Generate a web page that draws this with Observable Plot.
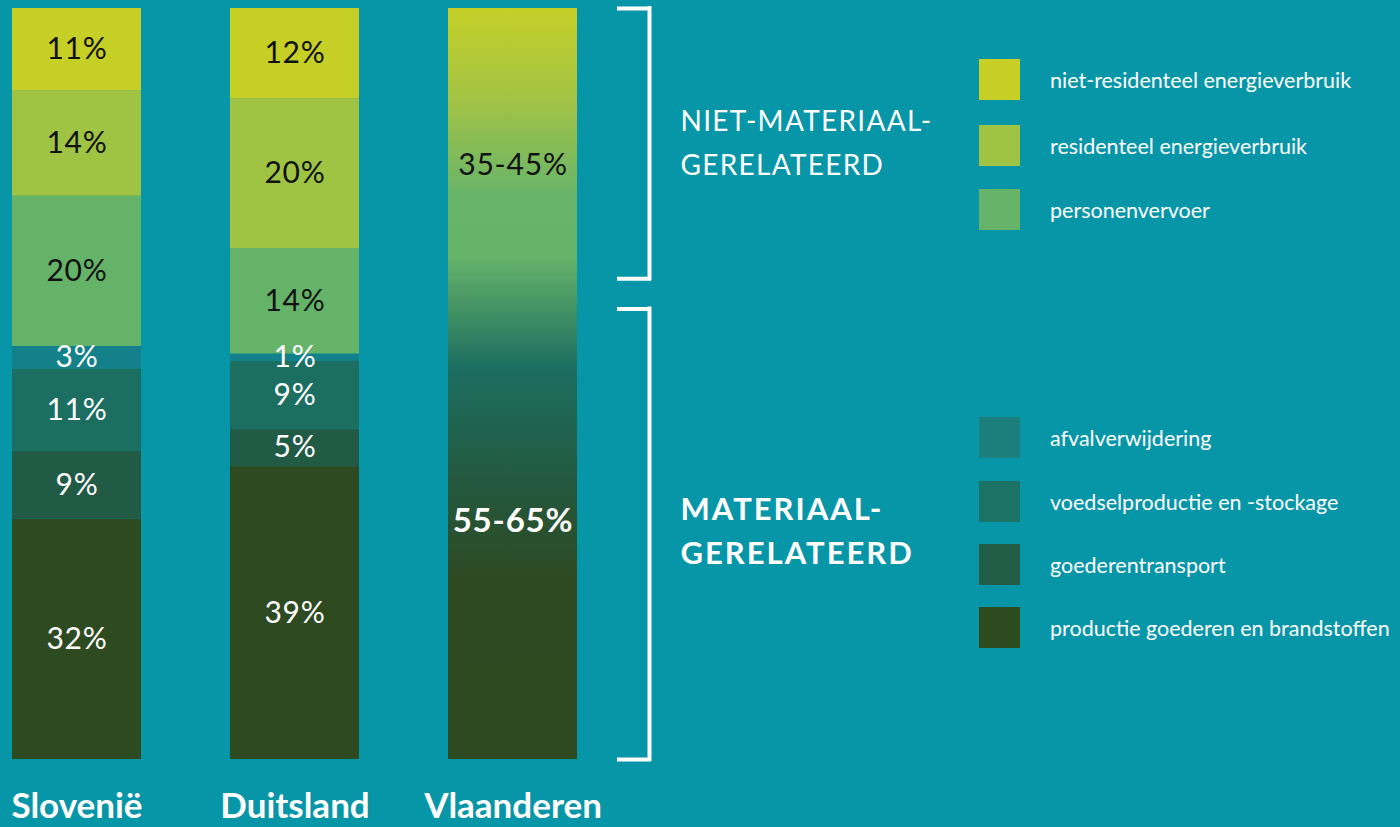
<!DOCTYPE html>
<html><head><meta charset="utf-8">
<script src="https://cdn.jsdelivr.net/npm/d3@7"></script>
<script src="https://cdn.jsdelivr.net/npm/@observablehq/plot@0.6"></script>
<style>
html,body{margin:0;padding:0;background:#0796a8;}
#wrap{position:relative;width:1400px;height:827px;overflow:hidden;font-family:Lato,"Noto Sans",sans-serif;}
#legend{position:absolute;left:979px;top:0;color:#fff;font-size:21.5px;}
.item{position:absolute;left:0;display:flex;align-items:center;white-space:nowrap;}
.sw{width:41px;height:41px;margin-right:30px;flex:none;}
svg{display:block;}
</style></head><body><div id="wrap"></div>
<script>
// ---- data ----
const countries = ["Slovenië", "Duitsland", "Vlaanderen"];
// stacking order: bottom to top
const categories = [
  "productie goederen en brandstoffen",
  "goederentransport",
  "voedselproductie en -stockage",
  "afvalverwijdering",
  "personenvervoer",
  "residenteel energieverbruik",
  "niet-residenteel energieverbruik"
];
const sloveniaValues = [32, 9, 11, 3, 20, 14, 11];
const germanyValues  = [39, 5, 9, 1, 14, 20, 12];
const categoryColors = ["#2d4a21", "#215b46", "#1b6e60", "#13808a", "#65b369", "#9fc444", "#c5cf26"];
const labelColors    = ["#ffffff", "#ffffff", "#ffffff", "#ffffff", "#111111", "#111111", "#111111"];
const legendSwatches = ["#2e4a1f", "#225d48", "#1c7265", "#1d7f7b", "#66b36a", "#9fc444", "#c7cf26"];

const flandersGroups = ["materiaal-gerelateerd", "niet-materiaal-gerelateerd"];
const flandersShares = [60, 40];
const flandersLabels = ["55-65%", "35-45%"];

const bracketLabels = ["MATERIAAL-\nGERELATEERD", "NIET-MATERIAAL-\nGERELATEERD"];
const bracketLow  = [0, 64];
const bracketHigh = [60, 100];

// ---- tables ----
const rows = [];
categories.forEach((c, i) => rows.push({country: "Slovenië", category: c, value: sloveniaValues[i], color: categoryColors[i], lc: labelColors[i]}));
categories.forEach((c, i) => rows.push({country: "Duitsland", category: c, value: germanyValues[i], color: categoryColors[i], lc: labelColors[i]}));
const flanders = flandersGroups.map((g, i) => ({country: "Vlaanderen", group: g, value: flandersShares[i], label: flandersLabels[i]}));
const flandersTotal = [{country: "Vlaanderen", value: d3.sum(flandersShares)}];
const brackets = bracketLabels.map((l, i) => ({label: l, lo: bracketLow[i], hi: bracketHigh[i], bold: i === 0}));

const gradStops = [
  [0, "#c5cf27"], [0.12, "#a3c344"], [0.25, "#67b46a"], [0.33, "#66b36a"],
  [0.48, "#1c6e60"], [0.62, "#235a42"], [0.76, "#2d4a22"], [1, "#2d4a21"]
];
const gradientDefs = () => {
  const defs = d3.create("svg:defs");
  const lg = defs.append("linearGradient").attr("id", "vgrad")
    .attr("x1", 0).attr("y1", 0).attr("x2", 0).attr("y2", 1);
  gradStops.forEach(([o, c]) => lg.append("stop").attr("offset", o).attr("stop-color", c));
  return defs.node();
};

const fl = () => "Vlaanderen";
const chart = Plot.plot({
  width: 1400, height: 827,
  marginTop: 8, marginBottom: 68, marginLeft: 0, marginRight: 0,
  x: {domain: countries, range: [12, 578], paddingInner: 0.407, paddingOuter: 0, label: null},
  y: {domain: [0, 100], axis: null},
  color: {type: "identity"},
  style: {background: "transparent", fontFamily: "Lato, 'Noto Sans', sans-serif", color: "white", overflow: "visible"},
  marks: [
    gradientDefs,
    Plot.barY(rows, Plot.stackY({x: "country", y: "value", fill: "color"})),
    Plot.barY(flandersTotal, {x: "country", y: "value", fill: "url(#vgrad)"}),
    Plot.text(rows, Plot.stackY({x: "country", y: "value", text: d => d.value + "%", fill: "lc", fontSize: 30})),
    Plot.text(flanders, Plot.stackY({x: "country", y: "value", text: d => d.group === "niet-materiaal-gerelateerd" ? d.label : null, fill: "#111", fontSize: 30, dy: 7})),
    Plot.text(flanders, Plot.stackY({x: "country", y: "value", text: d => d.group === "materiaal-gerelateerd" ? d.label : null, fill: "white", fontSize: 33, fontWeight: "bold", dy: -13})),
    Plot.ruleX(brackets, {x: fl, y1: "lo", y2: "hi", dx: 136.5, stroke: "white", strokeWidth: 4, strokeLinecap: "square"}),
    Plot.ruleY(brackets, {y: "hi", x1: fl, x2: fl, insetLeft: 171, insetRight: -72, stroke: "white", strokeWidth: 4, strokeLinecap: "square"}),
    Plot.ruleY(brackets, {y: "lo", x1: fl, x2: fl, insetLeft: 171, insetRight: -72, stroke: "white", strokeWidth: 4, strokeLinecap: "square"}),
    Plot.text(brackets, {filter: d => !d.bold, x: fl, y: d => (d.lo + d.hi) / 2, text: "label", dx: 167.5, dy: -5, textAnchor: "start", lineHeight: 1.6, fontSize: 28, fill: "white"}),
    Plot.text(brackets, {filter: d => d.bold, x: fl, y: d => (d.lo + d.hi) / 2, text: "label", dx: 167.5, dy: -6, textAnchor: "start", lineHeight: 1.42, fontSize: 31, fontWeight: "bold", fill: "white"}),
    Plot.axisX({tickSize: 0, tickPadding: 34, fontSize: 35, fontWeight: "bold", fill: "white", label: null})
  ]
});
const wrap = document.getElementById("wrap");
wrap.appendChild(chart);
// letter spacing tweaks to approximate the original typeface's width
d3.select(chart).selectAll("text").each(function () {
  const t = this.textContent;
  if (/GERELATEERD/.test(t)) {
    this.style.letterSpacing = t.startsWith("NIET") ? "1.3px" : "2px";
  } else if (/%$/.test(t)) {
    this.style.letterSpacing = "0.8px";
  }
});

// legend (HTML)
const legend = document.createElement("div");
legend.id = "legend";
const legendOrder = [6, 5, 4, 3, 2, 1, 0];
const tops = [59, 125, 189, 417, 481, 544, 607];
legendOrder.forEach((ci, k) => {
  const it = document.createElement("div");
  it.className = "item";
  it.style.top = tops[k] + "px";
  it.innerHTML = `<div class="sw" style="background:${legendSwatches[ci]}"></div><span>${categories[ci]}</span>`;
  legend.appendChild(it);
});
wrap.appendChild(legend);
</script>
</body></html>
